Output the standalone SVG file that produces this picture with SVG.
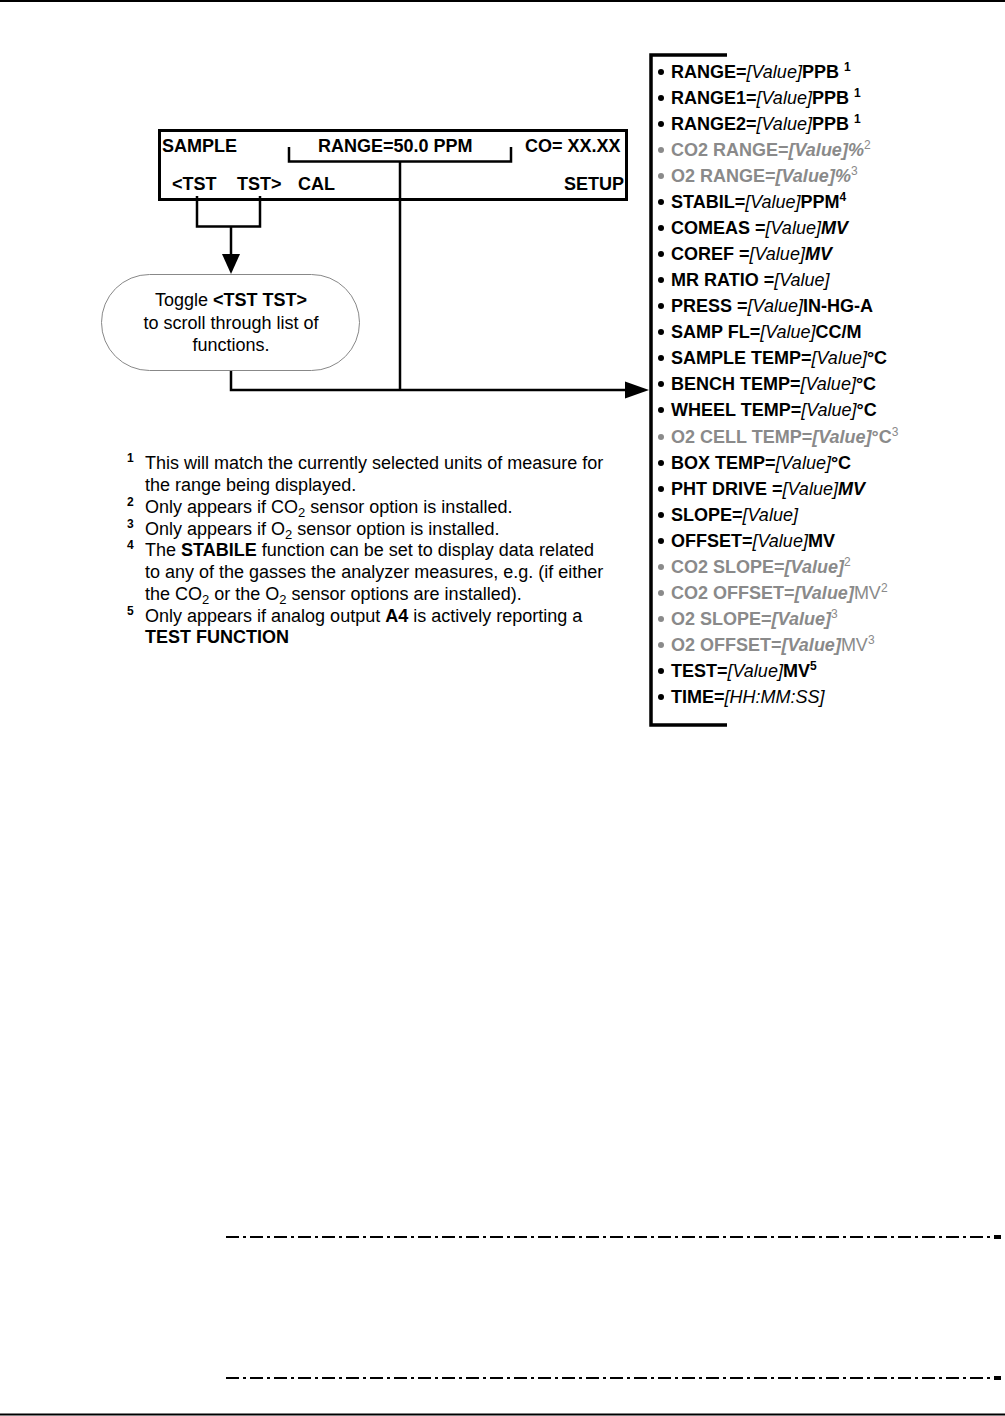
<svg xmlns="http://www.w3.org/2000/svg" width="1005" height="1416" viewBox="0 0 1005 1416">
<style>
text{font-family:"Liberation Sans",Arial,sans-serif;fill:#000}
.b{font-weight:bold}
.i{font-style:italic;font-weight:normal}
.bi{font-style:italic;font-weight:bold}
.disp{font-size:18px;font-weight:bold}
.li{font-size:18px;font-weight:bold}
.g{fill:#8a8a8a}
.g tspan{fill:#8a8a8a}
.sup{font-size:12px;font-weight:normal}
.supb{font-size:12px;font-weight:bold}
.fn{font-size:18px}
.fs{font-size:12px;font-weight:bold}
.ln{fill:none;stroke:#000;stroke-width:2.5}
.dot{fill:#000}
.dotg{fill:#8a8a8a}
</style>
<rect x="0" y="0" width="1005" height="1416" fill="#fff"/>
<line x1="0" y1="1" x2="1005" y2="1" stroke="#000" stroke-width="2"/>
<line x1="0" y1="1414.5" x2="1005" y2="1414.5" stroke="#000" stroke-width="2"/>

<g id="display">
<rect x="159.5" y="130.5" width="467" height="69" fill="#fff" stroke="#000" stroke-width="3"/>
<text class="disp" x="162" y="152">SAMPLE</text>
<text class="disp" x="318" y="152">RANGE=50.0 PPM</text>
<text class="disp" x="525" y="152">CO= XX.XX</text>
<text class="disp" x="172" y="190">&lt;TST</text>
<text class="disp" x="237" y="190">TST&gt;</text>
<text class="disp" x="298" y="190">CAL</text>
<text class="disp" x="624" y="190" text-anchor="end">SETUP</text>
</g>

<g id="toggle">
<rect x="101.5" y="274.5" width="258" height="96" rx="48" ry="48" fill="#fff" stroke="#888" stroke-width="1"/>
<text class="fn" x="231" y="306" text-anchor="middle">Toggle <tspan class="b">&lt;TST TST&gt;</tspan></text>
<text class="fn" x="231" y="329" text-anchor="middle">to scroll through list of</text>
<text class="fn" x="231" y="351" text-anchor="middle">functions.</text>
</g>

<g id="connectors">
<path class="ln" d="M289 147 V161.5 H511 V147"/>
<path class="ln" d="M400 161.5 V390"/>
<path class="ln" d="M197 196 V226.5 H260 V196"/>
<path class="ln" d="M231 226.5 V256"/>
<polygon points="222,254 240,254 231,274" fill="#000"/>
<path class="ln" d="M231 371 V390 H628"/>
<polygon points="625,381.5 625,398.5 649,390" fill="#000"/>
</g>

<g id="function-list">
<path d="M727 55 H651 V725 H727" fill="none" stroke="#000" stroke-width="3.5"/>
<g id="bullets">
<circle class="dot" cx="661" cy="72" r="3"/>
<circle class="dot" cx="661" cy="98" r="3"/>
<circle class="dot" cx="661" cy="124" r="3"/>
<circle class="dotg" cx="661" cy="150" r="3"/>
<circle class="dotg" cx="661" cy="176" r="3"/>
<circle class="dot" cx="661" cy="202" r="3"/>
<circle class="dot" cx="661" cy="228" r="3"/>
<circle class="dot" cx="661" cy="254" r="3"/>
<circle class="dot" cx="661" cy="280" r="3"/>
<circle class="dot" cx="661" cy="306" r="3"/>
<circle class="dot" cx="661" cy="332" r="3"/>
<circle class="dot" cx="661" cy="358" r="3"/>
<circle class="dot" cx="661" cy="384" r="3"/>
<circle class="dot" cx="661" cy="410" r="3"/>
<circle class="dotg" cx="661" cy="437" r="3"/>
<circle class="dot" cx="661" cy="463" r="3"/>
<circle class="dot" cx="661" cy="489" r="3"/>
<circle class="dot" cx="661" cy="515" r="3"/>
<circle class="dot" cx="661" cy="541" r="3"/>
<circle class="dotg" cx="661" cy="567" r="3"/>
<circle class="dotg" cx="661" cy="593" r="3"/>
<circle class="dotg" cx="661" cy="619" r="3"/>
<circle class="dotg" cx="661" cy="645" r="3"/>
<circle class="dot" cx="661" cy="671" r="3"/>
<circle class="dot" cx="661" cy="697" r="3"/>
</g>
<g class="li">
<text x="671" y="78">RANGE=<tspan class="i">[Value]</tspan>PPB <tspan class="supb" dy="-7">1</tspan></text>
<text x="671" y="104">RANGE1=<tspan class="i">[Value]</tspan>PPB <tspan class="supb" dy="-7">1</tspan></text>
<text x="671" y="130">RANGE2=<tspan class="i">[Value]</tspan>PPB <tspan class="supb" dy="-7">1</tspan></text>
<text class="g" x="671" y="156">CO2 RANGE=<tspan class="bi">[Value]</tspan><tspan class="bi">%</tspan><tspan class="sup" dy="-7">2</tspan></text>
<text class="g" x="671" y="182">O2 RANGE=<tspan class="bi">[Value]</tspan><tspan class="bi">%</tspan><tspan class="sup" dy="-7">3</tspan></text>
<text x="671" y="208">STABIL=<tspan class="i">[Value]</tspan>PPM<tspan class="supb" dy="-7">4</tspan></text>
<text x="671" y="234">COMEAS =<tspan class="i">[Value]</tspan><tspan class="bi">MV</tspan></text>
<text x="671" y="260">COREF =<tspan class="i">[Value]</tspan><tspan class="bi">MV</tspan></text>
<text x="671" y="286">MR RATIO =<tspan class="i">[Value]</tspan></text>
<text x="671" y="312">PRESS =<tspan class="i">[Value]</tspan>IN-HG-A</text>
<text x="671" y="338">SAMP FL=<tspan class="i">[Value]</tspan>CC/M</text>
<text x="671" y="364">SAMPLE TEMP=<tspan class="i">[Value]</tspan>°C</text>
<text x="671" y="390">BENCH TEMP=<tspan class="i">[Value]</tspan>°C</text>
<text x="671" y="416">WHEEL TEMP=<tspan class="i">[Value]</tspan>°C</text>
<text class="g" x="671" y="443">O2 CELL TEMP=<tspan class="bi">[Value]</tspan>°C<tspan class="sup" dy="-7">3</tspan></text>
<text x="671" y="469">BOX TEMP=<tspan class="i">[Value]</tspan>°C</text>
<text x="671" y="495">PHT DRIVE =<tspan class="i">[Value]</tspan><tspan class="bi">MV</tspan></text>
<text x="671" y="521">SLOPE=<tspan class="i">[Value]</tspan></text>
<text x="671" y="547">OFFSET=<tspan class="i">[Value]</tspan>MV</text>
<text class="g" x="671" y="573">CO2 SLOPE=<tspan class="bi">[Value]</tspan><tspan class="sup" dy="-7">2</tspan></text>
<text class="g" x="671" y="599">CO2 OFFSET=<tspan class="bi">[Value]</tspan><tspan font-weight="normal">MV</tspan><tspan class="sup" dy="-7">2</tspan></text>
<text class="g" x="671" y="625">O2 SLOPE=<tspan class="bi">[Value]</tspan><tspan class="sup" dy="-7">3</tspan></text>
<text class="g" x="671" y="651">O2 OFFSET=<tspan class="bi">[Value]</tspan><tspan font-weight="normal">MV</tspan><tspan class="sup" dy="-7">3</tspan></text>
<text x="671" y="677">TEST=<tspan class="i">[Value]</tspan>MV<tspan class="supb" dy="-7">5</tspan></text>
<text x="671" y="703">TIME=<tspan class="i">[HH:MM:SS]</tspan></text>
</g>
</g>

<g id="footnotes">
<text class="fs" x="127" y="462">1</text>
<text class="fn" x="145" y="469">This will match the currently selected units of measure for</text>
<text class="fn" x="145" y="491">the range being displayed.</text>
<text class="fs" x="127" y="506">2</text>
<text class="fn" x="145" y="513">Only appears if CO<tspan font-size="13" dy="4">2</tspan><tspan dy="-4"> sensor option is installed.</tspan></text>
<text class="fs" x="127" y="528">3</text>
<text class="fn" x="145" y="535">Only appears if O<tspan font-size="13" dy="4">2</tspan><tspan dy="-4"> sensor option is installed.</tspan></text>
<text class="fs" x="127" y="549">4</text>
<text class="fn" x="145" y="556">The <tspan class="b">STABILE</tspan> function can be set to display data related</text>
<text class="fn" x="145" y="578">to any of the gasses the analyzer measures, e.g. (if either</text>
<text class="fn" x="145" y="600">the CO<tspan font-size="13" dy="4">2</tspan><tspan dy="-4"> or the O</tspan><tspan font-size="13" dy="4">2</tspan><tspan dy="-4"> sensor options are installed).</tspan></text>
<text class="fs" x="127" y="615">5</text>
<text class="fn" x="145" y="622">Only appears if analog output <tspan class="b">A4</tspan> is actively reporting a</text>
<text class="fn b" x="145" y="643">TEST FUNCTION</text>
</g>

<g id="dash-lines">
<line x1="226" y1="1237" x2="994" y2="1237" stroke="#000" stroke-width="2" stroke-dasharray="13 4 3 4"/>
<rect x="994" y="1235" width="7" height="4" fill="#000"/>
<line x1="226" y1="1378" x2="994" y2="1378" stroke="#000" stroke-width="2" stroke-dasharray="13 4 3 4"/>
<rect x="994" y="1376" width="7" height="4" fill="#000"/>
</g>
</svg>
